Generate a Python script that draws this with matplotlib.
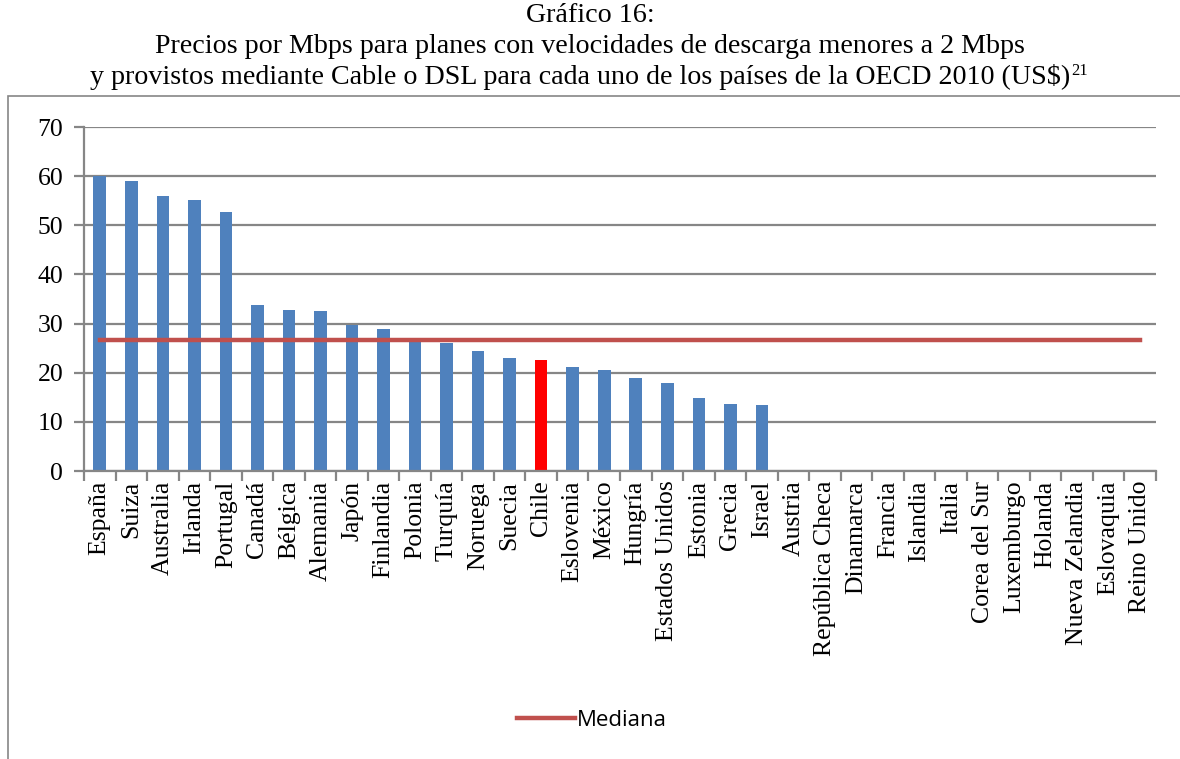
import matplotlib
matplotlib.use("Agg")
import matplotlib.pyplot as plt
from matplotlib.patches import Rectangle
import numpy as np

# datos
paises = ["España", "Suiza", "Australia", "Irlanda", "Portugal", "Canadá",
          "Bélgica", "Alemania", "Japón", "Finlandia", "Polonia", "Turquía",
          "Noruega", "Suecia", "Chile", "Eslovenia", "México", "Hungría",
          "Estados Unidos", "Estonia", "Grecia", "Israel", "Austria",
          "República Checa", "Dinamarca", "Francia", "Islandia", "Italia",
          "Corea del Sur", "Luxemburgo", "Holanda", "Nueva Zelandia",
          "Eslovaquia", "Reino Unido"]
precios = [60.0, 59.0, 56.0, 55.2, 52.7, 33.8, 32.7, 32.6, 29.7, 28.8,
           27.1, 26.0, 24.5, 23.0, 22.5, 21.2, 20.6, 19.0, 17.9, 14.8,
           13.7, 13.5, 0, 0, 0, 0, 0, 0, 0, 0, 0, 0, 0, 0]
mediana = [26.7] * len(paises)
destacado = "Chile"

serif = ["Liberation Serif", "DejaVu Serif"]
azul = "#4F81BD"
rojo_med = "#C0504D"
gris = "#868686"

fig = plt.figure(figsize=(11.8, 7.59), dpi=100)
W, H = 1180, 759
ax = fig.add_axes([84 / W, 1 - 471 / H, (1156 - 84) / W, (471 - 127) / H])

x = np.arange(len(paises))
colores = ["#FF0000" if p == destacado else azul for p in paises]
ax.bar(x, precios, width=0.4, color=colores, zorder=2)
ax.plot(x, mediana, color=rojo_med, lw=3.2, zorder=3, label="Mediana")

ax.set_xlim(-0.5, len(paises) - 0.5)
ax.set_ylim(0, 70)
ax.set_yticks(range(0, 71, 10))
ax.yaxis.grid(True, color=gris, lw=1.6, zorder=0)
ax.set_axisbelow(True)
for s in ["top", "right"]:
    ax.spines[s].set_visible(False)
ax.spines["left"].set_color(gris)
ax.spines["left"].set_linewidth(1.6)
ax.spines["bottom"].set_color(gris)
ax.spines["bottom"].set_linewidth(1.6)

ax.set_xticks(x)
ax.set_xticklabels(paises, rotation=90, fontfamily=serif, fontsize=18.5)
ax.tick_params(axis="x", length=0, pad=7)
ax.set_xticks(np.arange(-0.5, len(paises), 1), minor=True)
ax.tick_params(axis="x", which="minor", length=7, width=1.6, color=gris)
ax.tick_params(axis="y", length=7, width=1.6, color=gris, pad=8)
for t in ax.get_yticklabels():
    t.set_fontfamily(serif)
    t.set_fontsize(18.5)

# marco exterior del grafico
fig.patches.append(Rectangle((8 / W, -0.1), 1.2, 1.1 - 96 / H,
                             transform=fig.transFigure, fill=False,
                             edgecolor=gris, lw=1.2))

titulo = ["Gráfico 16:",
          "Precios por Mbps para planes con velocidades de descarga menores a 2 Mbps",
          "y provistos mediante Cable o DSL para cada uno de los países de la OECD 2010 (US$)"]
textos = []
for i, linea in enumerate(titulo):
    xc = 590 - (10 if i == 2 else 0)
    textos.append(fig.text(xc / W, 1 - (16 + 30.5 * i) / H, linea,
                           ha="center", va="center", fontfamily=serif,
                           fontsize=20.2))

# nota al pie en superindice, justo despues de la tercera linea
fig.canvas.draw()
bb = textos[2].get_window_extent()
fig.text((bb.x1 + 1) / W, 1 - 71 / H, "21", ha="left", va="center",
         fontfamily=serif, fontsize=12)

fig.legend(loc="center", bbox_to_anchor=(592 / W, 1 - 720 / H), frameon=False,
           prop={"family": "Open Sans", "size": 16}, handlelength=2.6,
           handletextpad=0.1)

fig.savefig("out.png", dpi=100)
